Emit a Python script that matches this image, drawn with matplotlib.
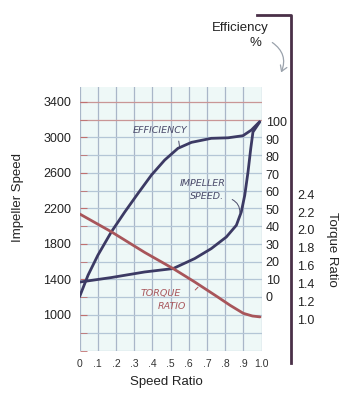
import matplotlib
matplotlib.use("Agg")
import matplotlib.pyplot as plt
from matplotlib.ticker import MultipleLocator, FixedLocator
from matplotlib.patches import FancyArrowPatch
from matplotlib.lines import Line2D

plt.rcParams['font.family'] = ['Liberation Sans', 'DejaVu Sans']

# ---- data ----
eff_x = [0, 0.047, 0.101, 0.175, 0.249, 0.321, 0.395, 0.468, 0.541, 0.615,
         0.724, 0.816, 0.898, 0.944, 0.99]
efficiency = [0, 12.4, 23.8, 37.1, 48.5, 59.0, 69.5, 78.1, 84.8, 88.2,
              90.5, 90.8, 92.0, 95.2, 100]

imp_x = [0, 0.174, 0.358, 0.514, 0.633, 0.724, 0.807, 0.862, 0.889, 0.908,
         0.926, 0.941, 0.953, 0.99]
impeller_speed = [1370, 1421, 1484, 1522, 1635, 1747, 1878, 2010, 2160, 2348,
                  2611, 2874, 3059, 3172]

tq_x = [0, 0.175, 0.358, 0.514, 0.633, 0.761, 0.827, 0.9, 0.95, 0.992]
torque_ratio = [2.18, 1.98, 1.75, 1.57, 1.42, 1.25, 1.16, 1.07, 1.04, 1.03]

speed_ticks = [0, 0.1, 0.2, 0.3, 0.4, 0.5, 0.6, 0.7, 0.8, 0.9, 1.0]
speed_labels = ['0', '.1', '.2', '.3', '.4', '.5', '.6', '.7', '.8', '.9', '1.0']
imp_ticks = [1000, 1400, 1800, 2200, 2600, 3000, 3400]
eff_ticks = [0, 10, 20, 30, 40, 50, 60, 70, 80, 90, 100]
tq_ticks = [1.0, 1.2, 1.4, 1.6, 1.8, 2.0, 2.2, 2.4]

W, H = 350, 420
fig = plt.figure(figsize=(3.5, 4.2), dpi=100)
fig.patch.set_facecolor('white')

def fx(px):
    return px / W

def fy(py):
    return 1 - py / H

ax = fig.add_axes([fx(79.5), fy(350.5), 182 / W, (350.5 - 87) / H])
ax.set_facecolor('#eef8f7')
ax.set_xlim(0, 1)
ax.set_ylim(600, 3566)

navy = '#3c3a64'
rust = '#a8555a'

# grid
for x in speed_ticks:
    ax.axvline(x, color='#a9b6c8', lw=0.9, zorder=1)
for v in range(600, 3500, 200):
    c = '#c99696' if v >= 3200 else '#b4c6d6'
    ax.axhline(v, color=c, lw=0.9, zorder=1)

for s in ax.spines.values():
    s.set_visible(False)

ax.set_xticks(speed_ticks)
ax.set_xticklabels(speed_labels, fontsize=7.5, color='#333')
ax.tick_params(axis='x', length=0, pad=6)
ax.set_yticks(imp_ticks)
ax.yaxis.set_minor_locator(MultipleLocator(200))
ax.tick_params(axis='y', which='both', direction='in', length=5, color='#c07070',
               labelsize=9, pad=6, labelcolor='#222')

ax.plot(imp_x, impeller_speed, color=navy, lw=2.0, solid_capstyle='round', zorder=3)

# efficiency axis
ax2 = ax.twinx()
ax2.set_ylim(-30.6, 119.8)
ax2.set_yticks(eff_ticks)
ax2.tick_params(axis='y', length=0, pad=3, labelsize=9, labelcolor='#222')
for s in ax2.spines.values():
    s.set_visible(False)
ax2.plot(eff_x, efficiency, color=navy, lw=2.0, solid_capstyle='round', zorder=3)

# torque ratio axis
ax3 = ax.twinx()
ax3.set_ylim(0.655, 3.596)
ax3.spines['right'].set_position(('axes', (291 - 79.5) / 182))
for s in ax3.spines.values():
    s.set_visible(False)
ax3.set_yticks(tq_ticks)
ax3.set_yticklabels([f'{t:.1f}' for t in tq_ticks])
ax3.tick_params(axis='y', length=0, pad=4.5, labelsize=9, labelcolor='#222')
ax3.plot(tq_x, torque_ratio, color=rust, lw=2.0, solid_capstyle='round', zorder=3)

# hand-written annotations
ann_kw = dict(fontsize=6.8, style='italic', family='DejaVu Sans', ha='center', va='center')
ax.text(0.445, 3075, 'EFFICIENCY', color='#4a4a6a', **ann_kw)
ax.annotate('', xy=(0.552, 2864), xytext=(0.543, 2988),
            arrowprops=dict(arrowstyle='-', color='#4a4a6a', lw=0.7))
ax.text(0.679, 2481, 'IMPELLER', color='#4a4a6a', **ann_kw)
ax.text(0.70, 2330, 'SPEED.', color='#4a4a6a', **ann_kw)
ax.annotate('', xy=(0.880, 2123), xytext=(0.825, 2312),
            arrowprops=dict(arrowstyle='-', color='#4a4a6a', lw=0.7,
                            connectionstyle='arc3,rad=-0.4'))
ax.text(0.447, 1241, 'TORQUE', color=rust, **ann_kw)
ax.text(0.51, 1090, 'RATIO', color=rust, **ann_kw)
ax.annotate('', xy=(0.662, 1335), xytext=(0.625, 1259),
            arrowprops=dict(arrowstyle='-', color=rust, lw=0.7))

# axis titles
fig.text(fx(18.5), fy(197), 'Impeller Speed', rotation=90, fontsize=9.5,
         ha='center', va='center', color='#222')
fig.text(fx(331.5), fy(249), 'Torque Ratio', rotation=-90, fontsize=9.5,
         ha='center', va='center', color='#222')
fig.text(fx(166.5), fy(382), 'Speed Ratio', fontsize=9.5,
         ha='center', va='center', color='#222')
fig.text(fx(240.5), fy(28.5), 'Efficiency', fontsize=9.5,
         ha='center', va='center', color='#222')
fig.text(fx(255), fy(43), '%', fontsize=9.5, ha='center', va='center', color='#222')

# bracket line
fig.add_artist(Line2D([fx(257), fx(291), fx(291)], [fy(15), fy(15), fy(363)],
                      color='#4a3048', lw=2.0, transform=fig.transFigure))

# curved arrow
arr = FancyArrowPatch((fx(270), fy(41)), (fx(280), fy(75)),
                      transform=fig.transFigure,
                      connectionstyle='arc3,rad=-0.45',
                      arrowstyle='->,head_length=4,head_width=2.5',
                      color='#9aa2ac', lw=0.9)
fig.add_artist(arr)

fig.savefig('out.png', dpi=100)
